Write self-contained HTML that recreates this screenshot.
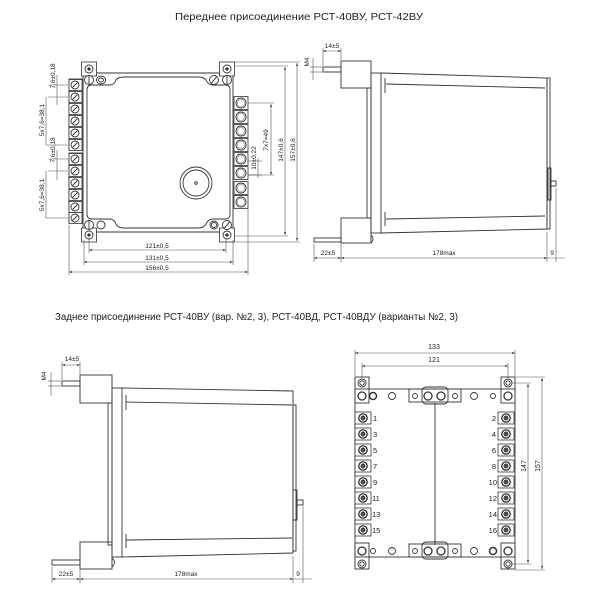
<!DOCTYPE html>
<html><head><meta charset="utf-8"><style>
html,body{margin:0;padding:0;background:#fff}
svg{display:block}
text{font-family:"Liberation Sans",sans-serif;fill:#222}
</style></head><body>
<svg width="600" height="600" viewBox="0 0 600 600" xmlns="http://www.w3.org/2000/svg">
<defs>
<marker id="a" viewBox="0 0 6 6" refX="6" refY="3" markerWidth="5" markerHeight="5" orient="auto-start-reverse"><path d="M0,1 L6,3 L0,5z" fill="#333"/></marker>
<g id="tL"><rect x="-7" y="-5.5" width="13" height="11" fill="#fff" stroke="#333" stroke-width="0.8"/><circle cx="-1" cy="0" r="4" fill="#fff" stroke="#333" stroke-width="0.9"/><line x1="-3.5" y1="2.5" x2="1.5" y2="-2.5" stroke="#333" stroke-width="0.9"/></g>
<g id="tR"><rect x="-7" y="-6.5" width="14" height="13" fill="#fff" stroke="#333" stroke-width="0.8"/><circle cx="0" cy="0" r="5" fill="#fff" stroke="#333" stroke-width="0.9"/><circle cx="0" cy="0" r="3.6" fill="none" stroke="#888" stroke-width="0.6"/></g>
<g id="tB"><rect x="-8" y="-6" width="16" height="12" fill="#fff" stroke="#333" stroke-width="0.8"/><circle cx="0" cy="0" r="4.2" fill="#fff" stroke="#222" stroke-width="1.2"/><circle cx="0" cy="0" r="2" fill="#555"/></g>
<g id="sc"><circle r="4.5" fill="#fff" stroke="#333" stroke-width="0.9"/><line x1="0" y1="-4" x2="0" y2="4" stroke="#333" stroke-width="0.9"/></g>
<g id="ct"><rect x="-7.5" y="-7" width="15" height="14" fill="#fff" stroke="#333" stroke-width="0.8"/><circle r="4" fill="#fff" stroke="#333" stroke-width="0.9"/><circle r="1.2" fill="#333"/></g>
</defs>
<g fill="none" stroke="#333" stroke-width="0.9">
<text x="299" y="20" font-size="10" text-anchor="middle" textLength="248" lengthAdjust="spacingAndGlyphs" stroke="none">Переднее присоединение РСТ-40ВУ, РСТ-42ВУ</text>
<text x="55" y="320" font-size="10" textLength="403" lengthAdjust="spacingAndGlyphs" stroke="none">Заднее присоединение РСТ-40ВУ (вар. №2, 3), РСТ-40ВД, РСТ-40ВДУ (варианты №2, 3)</text>

<!-- FRONT VIEW -->
<rect x="83" y="73" width="150" height="159" rx="3"/>
<path d="M87,90 Q87,85 92,85 L110,85 Q114,85 116,80 Q118,77 124,77 L198,77 Q204,77 206,80 Q208,85 213,85 L226,85 Q230,85 230,90 L230,214 Q230,219 226,219 L213,219 Q208,219 206,224 Q204,228 198,228 L124,228 Q118,228 116,224 Q114,219 110,219 L92,219 Q87,219 87,214 Z"/>
<use href="#ct" x="89" y="69"/><use href="#ct" x="227" y="69"/><use href="#ct" x="89" y="235"/><use href="#ct" x="227" y="235"/>
<use href="#sc" x="89" y="80"/><ellipse cx="101" cy="80" rx="4.5" ry="4"/><ellipse cx="101" cy="80" rx="2.5" ry="2"/>
<use href="#sc" x="214" y="80" transform="rotate(40 214 80)"/><use href="#sc" x="227" y="80"/>
<use href="#sc" x="89" y="225"/><circle cx="101" cy="225" r="4"/><circle cx="214" cy="225" r="4"/><circle cx="214" cy="225" r="2.5"/><use href="#sc" x="227" y="225" transform="rotate(40 227 225)"/>
<rect x="69" y="79" width="14" height="71"/><rect x="69" y="153" width="14" height="70"/>
<use href="#tL" x="76" y="85"/><use href="#tL" x="76" y="97"/><use href="#tL" x="76" y="109"/><use href="#tL" x="76" y="121"/><use href="#tL" x="76" y="133"/><use href="#tL" x="76" y="145"/>
<use href="#tL" x="76" y="159"/><use href="#tL" x="76" y="171"/><use href="#tL" x="76" y="183"/><use href="#tL" x="76" y="195"/><use href="#tL" x="76" y="207"/><use href="#tL" x="76" y="218"/>
<use href="#tR" x="241" y="103"/><use href="#tR" x="241" y="117"/><use href="#tR" x="241" y="131"/><use href="#tR" x="241" y="145"/><use href="#tR" x="241" y="159"/><use href="#tR" x="241" y="173"/><use href="#tR" x="241" y="188"/><use href="#tR" x="241" y="202"/>
<circle cx="196" cy="183" r="16"/><circle cx="196" cy="183" r="13"/><circle cx="196" cy="183" r="1.3"/>
<g stroke-width="0.6" stroke="#555">
<line x1="89" y1="238" x2="89" y2="253"/><line x1="226" y1="238" x2="226" y2="253"/>
<line x1="84" y1="240" x2="84" y2="265"/><line x1="233" y1="240" x2="233" y2="265"/>
<line x1="69" y1="225" x2="69" y2="275"/><line x1="248" y1="208" x2="248" y2="275"/>
<line x1="89" y1="250" x2="226" y2="250" marker-start="url(#a)" marker-end="url(#a)"/>
<line x1="84" y1="262" x2="233" y2="262" marker-start="url(#a)" marker-end="url(#a)"/>
<line x1="69" y1="272" x2="248" y2="272" marker-start="url(#a)" marker-end="url(#a)"/>
<line x1="248" y1="103" x2="274" y2="103"/><line x1="248" y1="175" x2="274" y2="175"/>
<line x1="235" y1="66" x2="288" y2="66"/><line x1="235" y1="236" x2="288" y2="236"/>
<line x1="235" y1="62" x2="300" y2="62"/><line x1="235" y1="242" x2="300" y2="242"/>
<line x1="271" y1="104" x2="271" y2="175" marker-start="url(#a)" marker-end="url(#a)"/>
<line x1="285" y1="67" x2="285" y2="235" marker-start="url(#a)" marker-end="url(#a)"/>
<line x1="297" y1="63" x2="297" y2="241" marker-start="url(#a)" marker-end="url(#a)"/>
<line x1="258" y1="158" x2="258" y2="178"/><line x1="248" y1="175" x2="262" y2="175"/><line x1="248" y1="161" x2="262" y2="161"/>
<line x1="48" y1="85" x2="68" y2="85"/><line x1="48" y1="97" x2="68" y2="97"/><line x1="46" y1="145" x2="68" y2="145"/>
<line x1="48" y1="159" x2="68" y2="159"/><line x1="48" y1="171" x2="68" y2="171"/><line x1="46" y1="218" x2="68" y2="218"/>
<line x1="57" y1="75" x2="57" y2="105"/><line x1="46" y1="97" x2="46" y2="145"/>
<line x1="57" y1="150" x2="57" y2="180"/><line x1="46" y1="171" x2="46" y2="218"/>
</g>
<g stroke="none" font-size="6.5">
<text x="157" y="248" text-anchor="middle">121±0,5</text>
<text x="157" y="260" text-anchor="middle">131±0,5</text>
<text x="157" y="270" text-anchor="middle">156±0,5</text>
<text transform="translate(268,140) rotate(-90)" text-anchor="middle">7x7=49</text>
<text transform="translate(283,150) rotate(-90)" text-anchor="middle">147±0,6</text>
<text transform="translate(295,150) rotate(-90)" text-anchor="middle">157±0,6</text>
<text transform="translate(256,158) rotate(-90)" text-anchor="middle">10±0,22</text>
<text transform="translate(55,76) rotate(-90)" text-anchor="middle">7,6±0,18</text>
<text transform="translate(44,120) rotate(-90)" text-anchor="middle">5x7,6=38,1</text>
<text transform="translate(55,150) rotate(-90)" text-anchor="middle">7,6±0,18</text>
<text transform="translate(44,195) rotate(-90)" text-anchor="middle">5x7,6=38,1</text>
</g>

<!-- SIDE VIEW TOP RIGHT -->
<rect x="341" y="61" width="30" height="27"/>
<rect x="323" y="67" width="18" height="5"/>
<rect x="367" y="88" width="4" height="130"/>
<rect x="371" y="73" width="10" height="160"/>
<path d="M381,73 L547,78 L547,229 L381,233"/>
<path d="M386,84 L545,88 M386,219 L545,216 M385,78 L385,93 M385,212 L385,226"/>
<rect x="547" y="78" width="3" height="151"/>
<rect x="548" y="168" width="3" height="32"/>
<rect x="551" y="181" width="5" height="5"/>
<rect x="341" y="218" width="30" height="25"/>
<rect x="314" y="238" width="27" height="4"/>
<path d="M371,235 q4,4 0,8"/>
<g stroke-width="0.6" stroke="#555">
<line x1="314" y1="244" x2="314" y2="262"/><line x1="341" y1="244" x2="341" y2="262"/><line x1="547" y1="232" x2="547" y2="262"/><line x1="556" y1="188" x2="556" y2="262"/>
<line x1="314" y1="258" x2="341" y2="258" marker-start="url(#a)" marker-end="url(#a)"/>
<line x1="341" y1="258" x2="547" y2="258" marker-start="url(#a)" marker-end="url(#a)"/>
<line x1="547" y1="258" x2="565" y2="258"/>
<line x1="323" y1="48" x2="323" y2="66"/><line x1="341" y1="48" x2="341" y2="60"/>
<line x1="323" y1="51" x2="341" y2="51" marker-start="url(#a)" marker-end="url(#a)"/>
<line x1="310" y1="67" x2="322" y2="67"/><line x1="310" y1="72" x2="322" y2="72"/><line x1="313" y1="58" x2="313" y2="80"/>
</g>
<g stroke="none" font-size="6.5">
<text x="332" y="48" text-anchor="middle">14±5</text>
<text x="328" y="255" text-anchor="middle">22±5</text>
<text x="444" y="255" text-anchor="middle">178max</text>
<text x="552" y="255" text-anchor="middle">9</text>
<text transform="translate(309,62) rotate(-90)" text-anchor="middle">M4</text>
</g>

<!-- SIDE VIEW BOTTOM LEFT -->
<rect x="80" y="375" width="32" height="28"/>
<rect x="62" y="381" width="18" height="5"/>
<rect x="108" y="403" width="4" height="142"/>
<rect x="112" y="388" width="10" height="169"/>
<path d="M122,388 L293,391 L293,553 L122,557"/>
<path d="M126,402 L292,405 M126,540 L292,538 M126,395 L126,410 M126,534 L126,548"/>
<rect x="293" y="405" width="3" height="146"/>
<rect x="293" y="490" width="4" height="30"/>
<rect x="297" y="500" width="6" height="5"/>
<rect x="80" y="542" width="32" height="27"/>
<rect x="52" y="560" width="28" height="5"/>
<path d="M112,558 q5,4 0,9"/>
<g stroke-width="0.6" stroke="#555">
<line x1="52" y1="567" x2="52" y2="583"/><line x1="80" y1="570" x2="80" y2="583"/><line x1="293" y1="556" x2="293" y2="583"/><line x1="303" y1="506" x2="303" y2="583"/>
<line x1="52" y1="579" x2="80" y2="579" marker-start="url(#a)" marker-end="url(#a)"/>
<line x1="80" y1="579" x2="293" y2="579" marker-start="url(#a)" marker-end="url(#a)"/>
<line x1="293" y1="579" x2="312" y2="579"/>
<line x1="62" y1="362" x2="62" y2="380"/><line x1="80" y1="362" x2="80" y2="374"/>
<line x1="62" y1="365" x2="80" y2="365" marker-start="url(#a)" marker-end="url(#a)"/>
<line x1="48" y1="381" x2="61" y2="381"/><line x1="48" y1="386" x2="61" y2="386"/><line x1="51" y1="372" x2="51" y2="396"/>
</g>
<g stroke="none" font-size="6.5">
<text x="72" y="361" text-anchor="middle">14±5</text>
<text x="66" y="576" text-anchor="middle">22±5</text>
<text x="186" y="576" text-anchor="middle">178max</text>
<text x="298" y="576" text-anchor="middle">9</text>
<text transform="translate(46,376) rotate(-90)" text-anchor="middle">M4</text>
</g>

<!-- REAR VIEW -->
<rect x="355" y="389" width="160" height="168"/>
<line x1="435" y1="403" x2="435" y2="545"/>
<rect x="355" y="377" width="14" height="26"/><rect x="501" y="377" width="14" height="26"/>
<rect x="355" y="543" width="14" height="26"/><rect x="501" y="543" width="14" height="26"/>
<circle cx="362" cy="383" r="4"/><circle cx="362" cy="383" r="2.2"/><circle cx="508" cy="383" r="4"/><circle cx="508" cy="383" r="2.2"/>
<circle cx="362" cy="564" r="4"/><circle cx="362" cy="564" r="2.2"/><circle cx="508" cy="564" r="4"/><circle cx="508" cy="564" r="2.2"/>
<rect x="409" y="389" width="52" height="13"/><rect x="409" y="544" width="52" height="13"/>
<rect x="422" y="387" width="26" height="17" rx="4"/><rect x="422" y="542" width="26" height="17" rx="4"/>
<g>
<circle cx="362" cy="396" r="4" stroke-width="1.3"/><circle cx="373" cy="396" r="3.5" stroke-width="1.5"/><circle cx="392" cy="396" r="3.5"/><circle cx="415" cy="396" r="2.5"/>
<circle cx="428" cy="396" r="4" stroke-width="1.3"/><circle cx="441" cy="396" r="4" stroke-width="1.3"/><circle cx="455" cy="396" r="2.5"/><circle cx="474" cy="396" r="3.5"/><circle cx="493" cy="396" r="2.5"/><circle cx="508" cy="396" r="4" stroke-width="1.3"/>
<circle cx="362" cy="551" r="4" stroke-width="1.3"/><circle cx="373" cy="551" r="2.5"/><circle cx="392" cy="551" r="3.5"/><circle cx="415" cy="551" r="2.5"/>
<circle cx="428" cy="551" r="4" stroke-width="1.3"/><circle cx="441" cy="551" r="4" stroke-width="1.3"/><circle cx="455" cy="551" r="2.5"/><circle cx="474" cy="551" r="3.5"/><circle cx="493" cy="551" r="3.5" stroke-width="1.5"/><circle cx="508" cy="551" r="4" stroke-width="1.3"/>
</g>
<use href="#tB" x="363" y="418"/><use href="#tB" x="363" y="434"/><use href="#tB" x="363" y="450"/><use href="#tB" x="363" y="466"/><use href="#tB" x="363" y="482"/><use href="#tB" x="363" y="498"/><use href="#tB" x="363" y="514"/><use href="#tB" x="363" y="530"/>
<use href="#tB" x="506" y="418"/><use href="#tB" x="506" y="434"/><use href="#tB" x="506" y="450"/><use href="#tB" x="506" y="466"/><use href="#tB" x="506" y="482"/><use href="#tB" x="506" y="498"/><use href="#tB" x="506" y="514"/><use href="#tB" x="506" y="530"/>
<g stroke="none" font-size="7.5">
<text x="373" y="421">1</text><text x="373" y="437">3</text><text x="373" y="453">5</text><text x="373" y="469">7</text><text x="373" y="485">9</text><text x="372" y="501">11</text><text x="372" y="517">13</text><text x="372" y="533">15</text>
<text x="496" y="421" text-anchor="end">2</text><text x="496" y="437" text-anchor="end">4</text><text x="496" y="453" text-anchor="end">6</text><text x="496" y="469" text-anchor="end">8</text><text x="497" y="485" text-anchor="end">10</text><text x="497" y="501" text-anchor="end">12</text><text x="497" y="517" text-anchor="end">14</text><text x="497" y="533" text-anchor="end">16</text>
<text x="434" y="349" text-anchor="middle" font-size="7">133</text>
<text x="434" y="362" text-anchor="middle" font-size="7">121</text>
<text transform="translate(526,466) rotate(-90)" text-anchor="middle" font-size="7">147</text>
<text transform="translate(540,466) rotate(-90)" text-anchor="middle" font-size="7">157</text>
</g>
<g stroke-width="0.6" stroke="#555">
<line x1="355" y1="350" x2="355" y2="376"/><line x1="515" y1="350" x2="515" y2="376"/>
<line x1="362" y1="363" x2="362" y2="378"/><line x1="508" y1="363" x2="508" y2="378"/>
<line x1="355" y1="353" x2="515" y2="353" marker-start="url(#a)" marker-end="url(#a)"/>
<line x1="362" y1="366" x2="508" y2="366" marker-start="url(#a)" marker-end="url(#a)"/>
<line x1="512" y1="383" x2="531" y2="383"/><line x1="512" y1="564" x2="531" y2="564"/>
<line x1="515" y1="377" x2="545" y2="377"/><line x1="515" y1="570" x2="545" y2="570"/>
<line x1="528" y1="384" x2="528" y2="563" marker-start="url(#a)" marker-end="url(#a)"/>
<line x1="542" y1="378" x2="542" y2="569" marker-start="url(#a)" marker-end="url(#a)"/>
</g>
</g>
</svg>
</body></html>
